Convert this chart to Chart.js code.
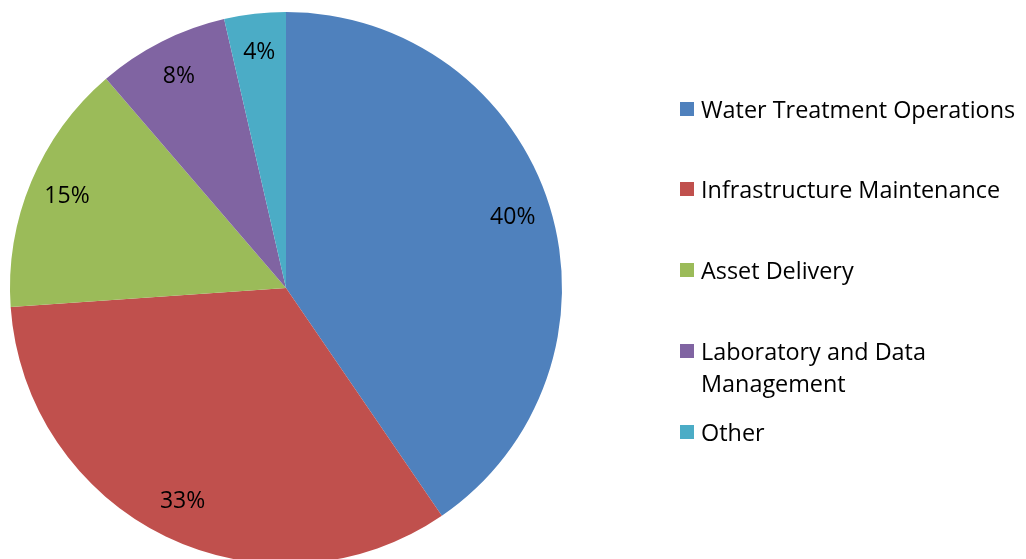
<!DOCTYPE html>
<html>
<head>
<meta charset="utf-8">
<script src="https://cdn.jsdelivr.net/npm/chart.js@4/dist/chart.umd.min.js"></script>
<style>
  html, body { margin: 0; padding: 0; background: #fff; overflow: hidden; }
  #wrap { position: relative; width: 1026px; height: 559px; overflow: hidden; }
  #chartBox { position: absolute; left: 0; top: 0; width: 1026px; height: 580px; }
  #legend { position: absolute; left: 680px; top: 0; font-family: "Open Sans", sans-serif; font-size: 23.4px; color: #000; }
  .item { position: absolute; left: 0; white-space: nowrap; line-height: 32px; }
  .box { position: absolute; left: 0; width: 14px; height: 14px; }
  .txt { position: absolute; left: 21px; }
</style>
</head>
<body>
<div id="wrap">
  <div id="chartBox"><canvas id="myCanvas"></canvas></div>
  <div id="legend"></div>
</div>
<script>
var labels = ['Water Treatment Operations', 'Infrastructure Maintenance', 'Asset Delivery', ['Laboratory and Data', 'Management'], 'Other'];
var shares = [40.45, 33.45, 14.8, 7.7, 3.6];
var colors = ['#4F81BD', '#C0504D', '#9BBB59', '#8064A2', '#4BACC6'];
var legendY = [109, 189, 270, 351, 432];

// legend on the right, built from the arrays above
var legend = document.getElementById('legend');
labels.forEach(function(lab, i){
    var lines = Array.isArray(lab) ? lab : [lab];
    var item = document.createElement('div');
    item.className = 'item';
    item.style.top = (legendY[i] - 16) + 'px';
    var box = document.createElement('div');
    box.className = 'box';
    box.style.top = '9px';
    box.style.background = colors[i];
    var txt = document.createElement('div');
    txt.className = 'txt';
    txt.innerHTML = lines.join('<br>');
    item.appendChild(box);
    item.appendChild(txt);
    legend.appendChild(item);
});

// percent labels inside the slices
var pctLabels = {
    id: 'pctLabels',
    afterDatasetsDraw: function(chart){
        var ctx = chart.ctx;
        var meta = chart.getDatasetMeta(0);
        var total = shares.reduce(function(a, b){ return a + b; }, 0);
        ctx.save();
        ctx.font = '23px "Open Sans", sans-serif';
        ctx.fillStyle = '#000';
        ctx.textAlign = 'center';
        ctx.textBaseline = 'middle';
        meta.data.forEach(function(arc, i){
            var mid = (arc.startAngle + arc.endAngle) / 2;
            var r = arc.outerRadius * 0.86;
            var x = arc.x + Math.cos(mid) * r;
            var y = arc.y + Math.sin(mid) * r;
            ctx.fillText(Math.round(shares[i] / total * 100) + '%', x, y);
        });
        ctx.restore();
    }
};

var ctx = document.getElementById('myCanvas').getContext('2d');
new Chart(ctx, {
    type: 'pie',
    data: {
        labels: labels.map(function(l){ return Array.isArray(l) ? l.join(' ') : l; }),
        datasets: [{
            data: shares,
            backgroundColor: colors,
            borderWidth: 0
        }]
    },
    options: {
        responsive: true,
        maintainAspectRatio: false,
        animation: false,
        layout: { padding: { left: 10, top: 12, right: 464, bottom: 16 } },
        plugins: {
            legend: { display: false },
            tooltip: { enabled: false }
        }
    },
    plugins: [pctLabels]
});
</script>
</body>
</html>
